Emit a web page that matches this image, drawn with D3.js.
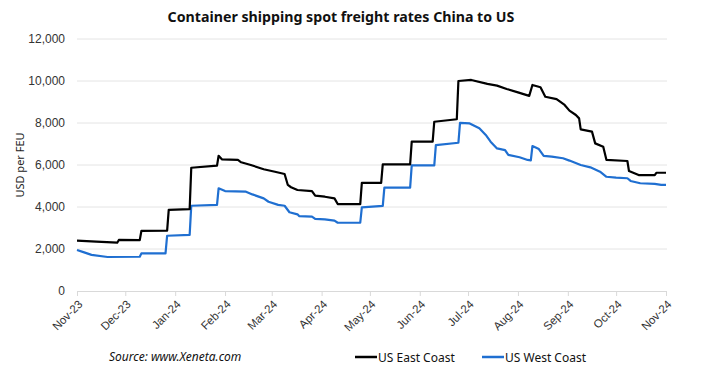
<!DOCTYPE html>
<html>
<head>
<meta charset="utf-8">
<script src="https://cdn.jsdelivr.net/npm/d3@7"></script>
<style>
  html, body { margin: 0; padding: 0; background: #fff; }
  svg { display: block; font-family: "Noto Sans", "Open Sans", sans-serif; }
</style>
</head>
<body>
<div id="chart"></div>
<script>
// weekly spot rates, USD per FEU
const eastDates = [
  '2023-11-01','2023-11-13','2023-11-26','2023-11-27','2023-12-10','2023-12-11','2023-12-27','2023-12-28',
  '2024-01-10','2024-01-11','2024-01-27','2024-01-28','2024-01-30','2024-02-09','2024-02-11','2024-02-17',
  '2024-02-25','2024-03-03','2024-03-09','2024-03-11','2024-03-13','2024-03-17','2024-03-26','2024-03-28',
  '2024-04-03','2024-04-09','2024-04-11','2024-04-25','2024-04-26','2024-05-08','2024-05-09','2024-05-26',
  '2024-05-27','2024-06-09','2024-06-10','2024-06-24','2024-06-25','2024-07-03','2024-07-13','2024-07-19',
  '2024-07-25','2024-08-01','2024-08-08','2024-08-10','2024-08-15','2024-08-18','2024-08-25','2024-08-30',
  '2024-09-02','2024-09-06','2024-09-08','2024-09-09','2024-09-16','2024-09-18','2024-09-23','2024-09-25',
  '2024-10-08','2024-10-09','2024-10-15','2024-10-25','2024-10-26','2024-11-01'
];
const eastValues = [
  2400, 2350, 2300, 2430, 2420, 2860, 2870, 3860,
  3900, 5870, 5970, 6440, 6270, 6240, 6130, 6000,
  5800, 5680, 5570, 5050, 4940, 4810, 4760, 4540,
  4490, 4410, 4140, 4140, 5150, 5150, 6030, 6030,
  7110, 7110, 8060, 8180, 10000, 10050, 9860, 9780,
  9620, 9460, 9290, 9810, 9700, 9250, 9140, 8860,
  8590, 8380, 8220, 7700, 7590, 7030, 6870, 6240,
  6190, 5710, 5520, 5520, 5630, 5630
];

const westDates = [
  '2023-11-01','2023-11-05','2023-11-10','2023-11-20','2023-12-10','2023-12-11','2023-12-26','2023-12-27',
  '2024-01-10','2024-01-11','2024-01-27','2024-01-28','2024-02-01','2024-02-14','2024-02-18','2024-02-25',
  '2024-02-28','2024-03-05','2024-03-09','2024-03-12','2024-03-17','2024-03-18','2024-03-26','2024-03-28',
  '2024-04-03','2024-04-09','2024-04-11','2024-04-25','2024-04-26','2024-05-09','2024-05-10','2024-05-26',
  '2024-05-27','2024-06-10','2024-06-11','2024-06-25','2024-06-26','2024-07-02','2024-07-08','2024-07-12',
  '2024-07-15','2024-07-19','2024-07-24','2024-07-26','2024-08-02','2024-08-07','2024-08-09','2024-08-10',
  '2024-08-14','2024-08-17','2024-08-22','2024-08-29','2024-09-02','2024-09-09','2024-09-15','2024-09-21',
  '2024-09-25','2024-10-01','2024-10-08','2024-10-10','2024-10-16','2024-10-25','2024-10-29','2024-11-01'
];
const westValues = [
  1950, 1850, 1720, 1620, 1630, 1790, 1790, 2630,
  2670, 4060, 4100, 4890, 4760, 4730, 4600, 4410,
  4250, 4100, 4060, 3750, 3650, 3570, 3540, 3430,
  3410, 3350, 3250, 3250, 3980, 4050, 4920, 4920,
  5980, 5980, 6950, 7060, 8010, 7980, 7750, 7430,
  7110, 6790, 6710, 6480, 6370, 6240, 6220, 6900,
  6760, 6430, 6400, 6320, 6210, 6000, 5890, 5680,
  5440, 5400, 5370, 5240, 5130, 5100, 5050, 5050
];

const yTicks = [0, 2000, 4000, 6000, 8000, 10000, 12000];
const monthTicks = ['2023-11-01','2023-12-01','2024-01-01','2024-02-01','2024-03-01','2024-04-01',
  '2024-05-01','2024-06-01','2024-07-01','2024-08-01','2024-09-01','2024-10-01','2024-11-01'];

const W = 715, H = 373;
const margin = { top: 39, right: 48, bottom: 82, left: 77 };
const w = W - margin.left - margin.right;
const h = H - margin.top - margin.bottom;

const parse = d3.utcParse('%Y-%m-%d');
const east = eastDates.map((d, i) => ({ date: parse(d), value: eastValues[i] }));
const west = westDates.map((d, i) => ({ date: parse(d), value: westValues[i] }));

const svg = d3.select('#chart').append('svg').attr('width', W).attr('height', H);

svg.append('text')
  .attr('x', 341).attr('y', 22)
  .attr('text-anchor', 'middle')
  .style('font-size', '14.2px').style('font-weight', '700').style('fill', '#111')
  .text('Container shipping spot freight rates China to US');

const g = svg.append('g').attr('transform', `translate(${margin.left},${margin.top})`);

const x = d3.scaleUtc()
  .domain([parse(monthTicks[0]), parse(monthTicks[monthTicks.length - 1])])
  .range([0, 589]);
const y = d3.scaleLinear().domain([0, 12000]).range([h, 0]);

// horizontal grid
g.append('g')
  .selectAll('line')
  .data(yTicks.filter(d => d > 0))
  .join('line')
  .attr('x1', 0).attr('x2', w)
  .attr('y1', d => y(d)).attr('y2', d => y(d))
  .attr('stroke', '#e4e4e4').attr('stroke-width', 1);

// y axis labels
const yAxis = g.append('g')
  .call(d3.axisLeft(y).tickValues(yTicks).tickSize(0).tickPadding(12).tickFormat(d3.format(',')));
yAxis.select('.domain').remove();
yAxis.selectAll('text').style('font-size', '12px').style('fill', '#333');

// x axis, labels turned 45deg with their end at the tick
const xAxis = g.append('g')
  .attr('transform', `translate(0,${h})`)
  .call(d3.axisBottom(x).tickValues(monthTicks.map(parse)).tickSize(5).tickFormat(d3.utcFormat('%b-%y')));
xAxis.select('.domain').attr('stroke', '#d9d9d9');
xAxis.selectAll('.tick line').attr('stroke', '#d9d9d9');
xAxis.selectAll('text')
  .attr('text-anchor', 'end')
  .attr('x', 0).attr('y', 0).attr('dy', '0.35em')
  .attr('transform', 'translate(3,11) rotate(-45)')
  .style('font-size', '11.5px').style('fill', '#333');

// axis title
svg.append('text')
  .attr('transform', `translate(24,${margin.top + h / 2}) rotate(-90)`)
  .attr('text-anchor', 'middle')
  .style('font-size', '11px').style('fill', '#222')
  .text('USD per FEU');

// lines
const line = d3.line().x(d => x(d.date)).y(d => y(d.value));

g.append('path').datum(west)
  .attr('fill', 'none').attr('stroke', '#1f6fd1').attr('stroke-width', 2.2)
  .attr('stroke-linejoin', 'round')
  .attr('d', line);

g.append('path').datum(east)
  .attr('fill', 'none').attr('stroke', '#000').attr('stroke-width', 2.2)
  .attr('stroke-linejoin', 'round')
  .attr('d', line);

// footer: source + legend
svg.append('text')
  .attr('x', 109).attr('y', 361)
  .style('font-size', '12px').style('font-style', 'italic').style('fill', '#111')
  .text('Source: www.Xeneta.com');

const legend = [
  { label: 'US East Coast', color: '#000', x: 355 },
  { label: 'US West Coast', color: '#1f6fd1', x: 482 }
];
const lg = svg.append('g').selectAll('g').data(legend).join('g')
  .attr('transform', d => `translate(${d.x},357)`);
lg.append('line').attr('x1', 0).attr('x2', 22).attr('y1', 0).attr('y2', 0)
  .attr('stroke', d => d.color).attr('stroke-width', 2.5);
lg.append('text').attr('x', 23).attr('y', 4.5)
  .style('font-size', '12px').style('fill', '#111')
  .text(d => d.label);
</script>
</body>
</html>
